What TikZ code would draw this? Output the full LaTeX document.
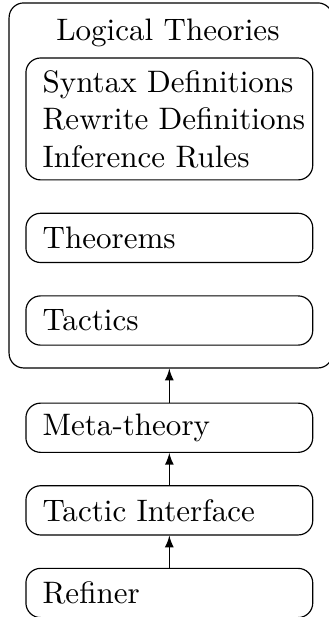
\documentclass[tikz,border=0pt]{standalone}
\usetikzlibrary{positioning}

\tikzset{
  layer/.style={draw, rounded corners=5pt, minimum height=16.8pt,
    inner xsep=2.2pt, text width=93.5pt, align=left,
    execute at begin node={\leftskip=3.5pt}},
  box/.style={draw, rounded corners=5pt},
}

\begin{document}
\begin{tikzpicture}[node distance=11pt, >=latex, x=1pt, y=1pt,
    font=\fontsize{10.6}{12.8}\selectfont]
  \useasboundingbox (0,0) rectangle (112,-210.6);
  % the theory part, with its three layers inside
  \node[box, minimum width=110.4pt, minimum height=124.6pt] (theories) at (58.3,-63.3) {};
  \node[anchor=base] (title) at (57.3,-13.7) {Logical Theories};
  \node[layer, minimum height=41.6pt] (defs) at (57.8,-40.6)
    {Syntax Definitions\\ Rewrite Definitions\\ Inference Rules};
  \node[layer, below=of defs] (theorems) {Theorems};
  \node[layer, below=of theorems] (tactics) {Tactics};
  % the layers under it
  \node[layer, below=11.6pt of theories.south -| defs] (meta) {Meta-theory};
  \node[layer, below=of meta] (iface) {Tactic Interface};
  \node[layer, below=of iface] (refiner) {Refiner};

  \draw[->] (refiner) -- (iface);
  \draw[->] (iface) -- (meta);
  \draw[->] (meta) -- (meta |- theories.south);
\end{tikzpicture}
\end{document}
